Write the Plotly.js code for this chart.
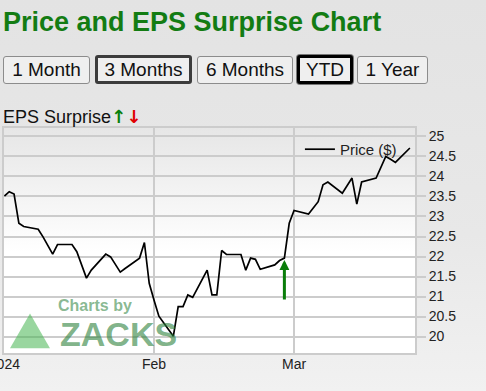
<!DOCTYPE html>
<html>
<head>
<meta charset="utf-8">
<script src="https://cdn.plot.ly/plotly-3.0.1.min.js"></script>
<style>
  html, body { margin:0; padding:0; }
  body { width:486px; height:391px; overflow:hidden; position:relative;
         background: linear-gradient(to bottom, #e3e3e3 0%, #e8e8e8 60%, #f1f1f1 100%);
         font-family: Arial, "Liberation Sans", sans-serif; }
  #plotbg { position:absolute; left:4px; top:128px; width:411px; height:225px;
            background: linear-gradient(to bottom, #e6e6e6 0%, #f6f6f6 35%, #ffffff 55%, #ffffff 100%); z-index:0; }
  #chart { position:absolute; left:0; top:0; width:486px; height:391px; z-index:1; }
  .hdr { position:absolute; z-index:2; }
  #title { left:3px; top:7px; font-size:27px; line-height:30px; font-weight:bold; color:#137c13; white-space:nowrap; }
  .btn { position:absolute; z-index:2; box-sizing:border-box; background:#efefef; border:1px solid #8c8c8c;
         border-radius:3px; font-size:19px; color:#111; text-align:center; white-space:nowrap; }
  #eps { left:3px; top:106px; font-size:18px; line-height:22px; color:#111; white-space:nowrap; }
  #eps .up { color:#0a800a; font-weight:bold; font-family:"DejaVu Sans"; font-size:18px; }
  #eps .dn { color:#e00000; font-weight:bold; font-family:"DejaVu Sans"; font-size:18px; }
</style>
</head>
<body>
<div id="plotbg"></div>
<div id="chart"></div>
<div id="title" class="hdr">Price and EPS Surprise Chart</div>
<div class="btn" style="left:3px;top:56px;width:87px;height:28px;line-height:26px;">1 Month</div>
<div class="btn" style="left:95px;top:55px;width:97px;height:29px;line-height:23px;border:3px solid #3c3c3c;">3 Months</div>
<div class="btn" style="left:197px;top:56px;width:96px;height:28px;line-height:26px;">6 Months</div>
<div class="btn" style="left:297px;top:55px;width:56px;height:29px;line-height:23px;border:3px solid #000;box-shadow:0 0 0 1px #777;">YTD</div>
<div class="btn" style="left:357px;top:56px;width:71px;height:28px;line-height:26px;">1 Year</div>
<div id="eps" class="hdr">EPS Surprise<span class="up">↑</span><span class="dn">↓</span></div>
<script>
// ---- data ----
const dates = [
 '2024-01-01','2024-01-02','2024-01-03','2024-01-04','2024-01-05',
 '2024-01-08','2024-01-09','2024-01-10','2024-01-11','2024-01-12',
 '2024-01-15','2024-01-16','2024-01-17','2024-01-18','2024-01-19',
 '2024-01-22','2024-01-23','2024-01-24','2024-01-25','2024-01-26',
 '2024-01-29','2024-01-30','2024-01-31','2024-02-01','2024-02-02',
 '2024-02-05','2024-02-06','2024-02-07','2024-02-08','2024-02-09',
 '2024-02-12','2024-02-13','2024-02-14','2024-02-15','2024-02-16',
 '2024-02-19','2024-02-20','2024-02-21','2024-02-22','2024-02-23',
 '2024-02-26','2024-02-27','2024-02-28','2024-02-29','2024-03-01',
 '2024-03-04','2024-03-05','2024-03-06','2024-03-07','2024-03-08',
 '2024-03-11','2024-03-12','2024-03-13','2024-03-14','2024-03-15',
 '2024-03-18','2024-03-19','2024-03-20','2024-03-21','2024-03-22',
 '2024-03-25'];
const prices = [
 23.51,23.62,23.56,22.83,22.75,
 22.68,22.49,22.26,22.06,22.30,
 22.30,22.12,21.79,21.46,21.66,
 22.06,21.99,21.80,21.61,21.70,
 21.96,22.35,21.33,20.91,20.51,
 20.01,20.75,20.75,21.04,20.98,
 21.66,21.04,21.04,22.15,22.05,
 22.05,21.66,21.96,21.93,21.68,
 21.79,21.90,21.96,22.83,23.15,
 23.06,23.21,23.37,23.79,23.86,
 23.58,23.78,23.96,23.31,23.86,
 23.96,24.24,24.50,24.43,24.35,
 24.71];
const epsDates = ['2024-02-28'];
const epsDirections = ['up'];
const xTickVals = ['2024-01-01','2024-02-01','2024-03-01'];
const xTickText = ['2024','Feb','Mar'];
const yTickVals = [20,20.5,21,21.5,22,22.5,23,23.5,24,24.5,25];
const seriesName = 'Price ($)';

const priceTrace = {
  x: dates, y: prices, type:'scatter', mode:'lines', name: seriesName,
  line:{color:'#000', width:1.7}, hoverinfo:'skip'
};

const annotations = epsDates.map((d,i) => {
  const idx = dates.indexOf(d);
  const up = epsDirections[i] === 'up';
  return {
    x: d, y: prices[idx], xref:'x', yref:'y', text:'', showarrow:true,
    ax:0, ay: up ? 43 : -43, axref:'pixel', ayref:'pixel',
    arrowhead:2, arrowsize:0.66, arrowwidth:3, standoff:2,
    arrowcolor: up ? '#0a7d0a' : '#e00000'
  };
});
annotations.push({
  xref:'paper', yref:'paper', x:0.2226, y:0.209, xanchor:'center', yanchor:'middle',
  text:'<b>Charts by</b>', showarrow:false,
  font:{family:'Arial, Liberation Sans', size:16, color:'rgba(60,140,75,0.62)'}
});
annotations.push({
  xref:'paper', yref:'paper', x:0.2786, y:0.0836, xanchor:'center', yanchor:'middle',
  text:'<b>ZACKS</b>', showarrow:false,
  font:{family:'Arial, Liberation Sans', size:34, color:'rgba(45,130,60,0.62)'}
});

const layout = {
  width:486, height:391,
  margin:{l:4, r:71, t:128, b:38, pad:0},
  paper_bgcolor:'rgba(0,0,0,0)', plot_bgcolor:'rgba(0,0,0,0)',
  font:{family:'Arial, Liberation Sans, sans-serif', size:14, color:'#222'},
  showlegend:true,
  legend:{x:0.72, y:0.978, xanchor:'left', yanchor:'top', bgcolor:'rgba(0,0,0,0)',
          font:{size:15, color:'#222'}, borderwidth:0},
  xaxis:{type:'date', range:['2023-12-31 22:00','2024-03-26 01:20'],
         tickvals:xTickVals, ticktext:xTickText, ticks:'', ticklabelstandoff:-3,
         ticklabeloverflow:'allow',
         showgrid:true, gridcolor:'#cccccc', gridwidth:2,
         showline:true, linecolor:'#cccccc', linewidth:2, mirror:true,
         zeroline:false, fixedrange:true},
  yaxis:{side:'right', range:[19.59,25.21], tickvals:yTickVals,
         ticks:'outside', ticklen:9, tickcolor:'#cccccc', tickwidth:2,
         showgrid:true, gridcolor:'#cccccc', gridwidth:2,
         showline:true, linecolor:'#cccccc', linewidth:2, mirror:true,
         zeroline:false, fixedrange:true},
  shapes:[{type:'path', xref:'paper', yref:'paper',
           path:'M0.0146,0.021 L0.0633,0.176 L0.1119,0.021 Z',
           fillcolor:'rgba(70,180,80,0.55)', line:{width:0}, layer:'above'}],
  annotations: annotations
};

Plotly.newPlot('chart', [priceTrace], layout, {displayModeBar:false, staticPlot:true});
</script>
</body>
</html>
